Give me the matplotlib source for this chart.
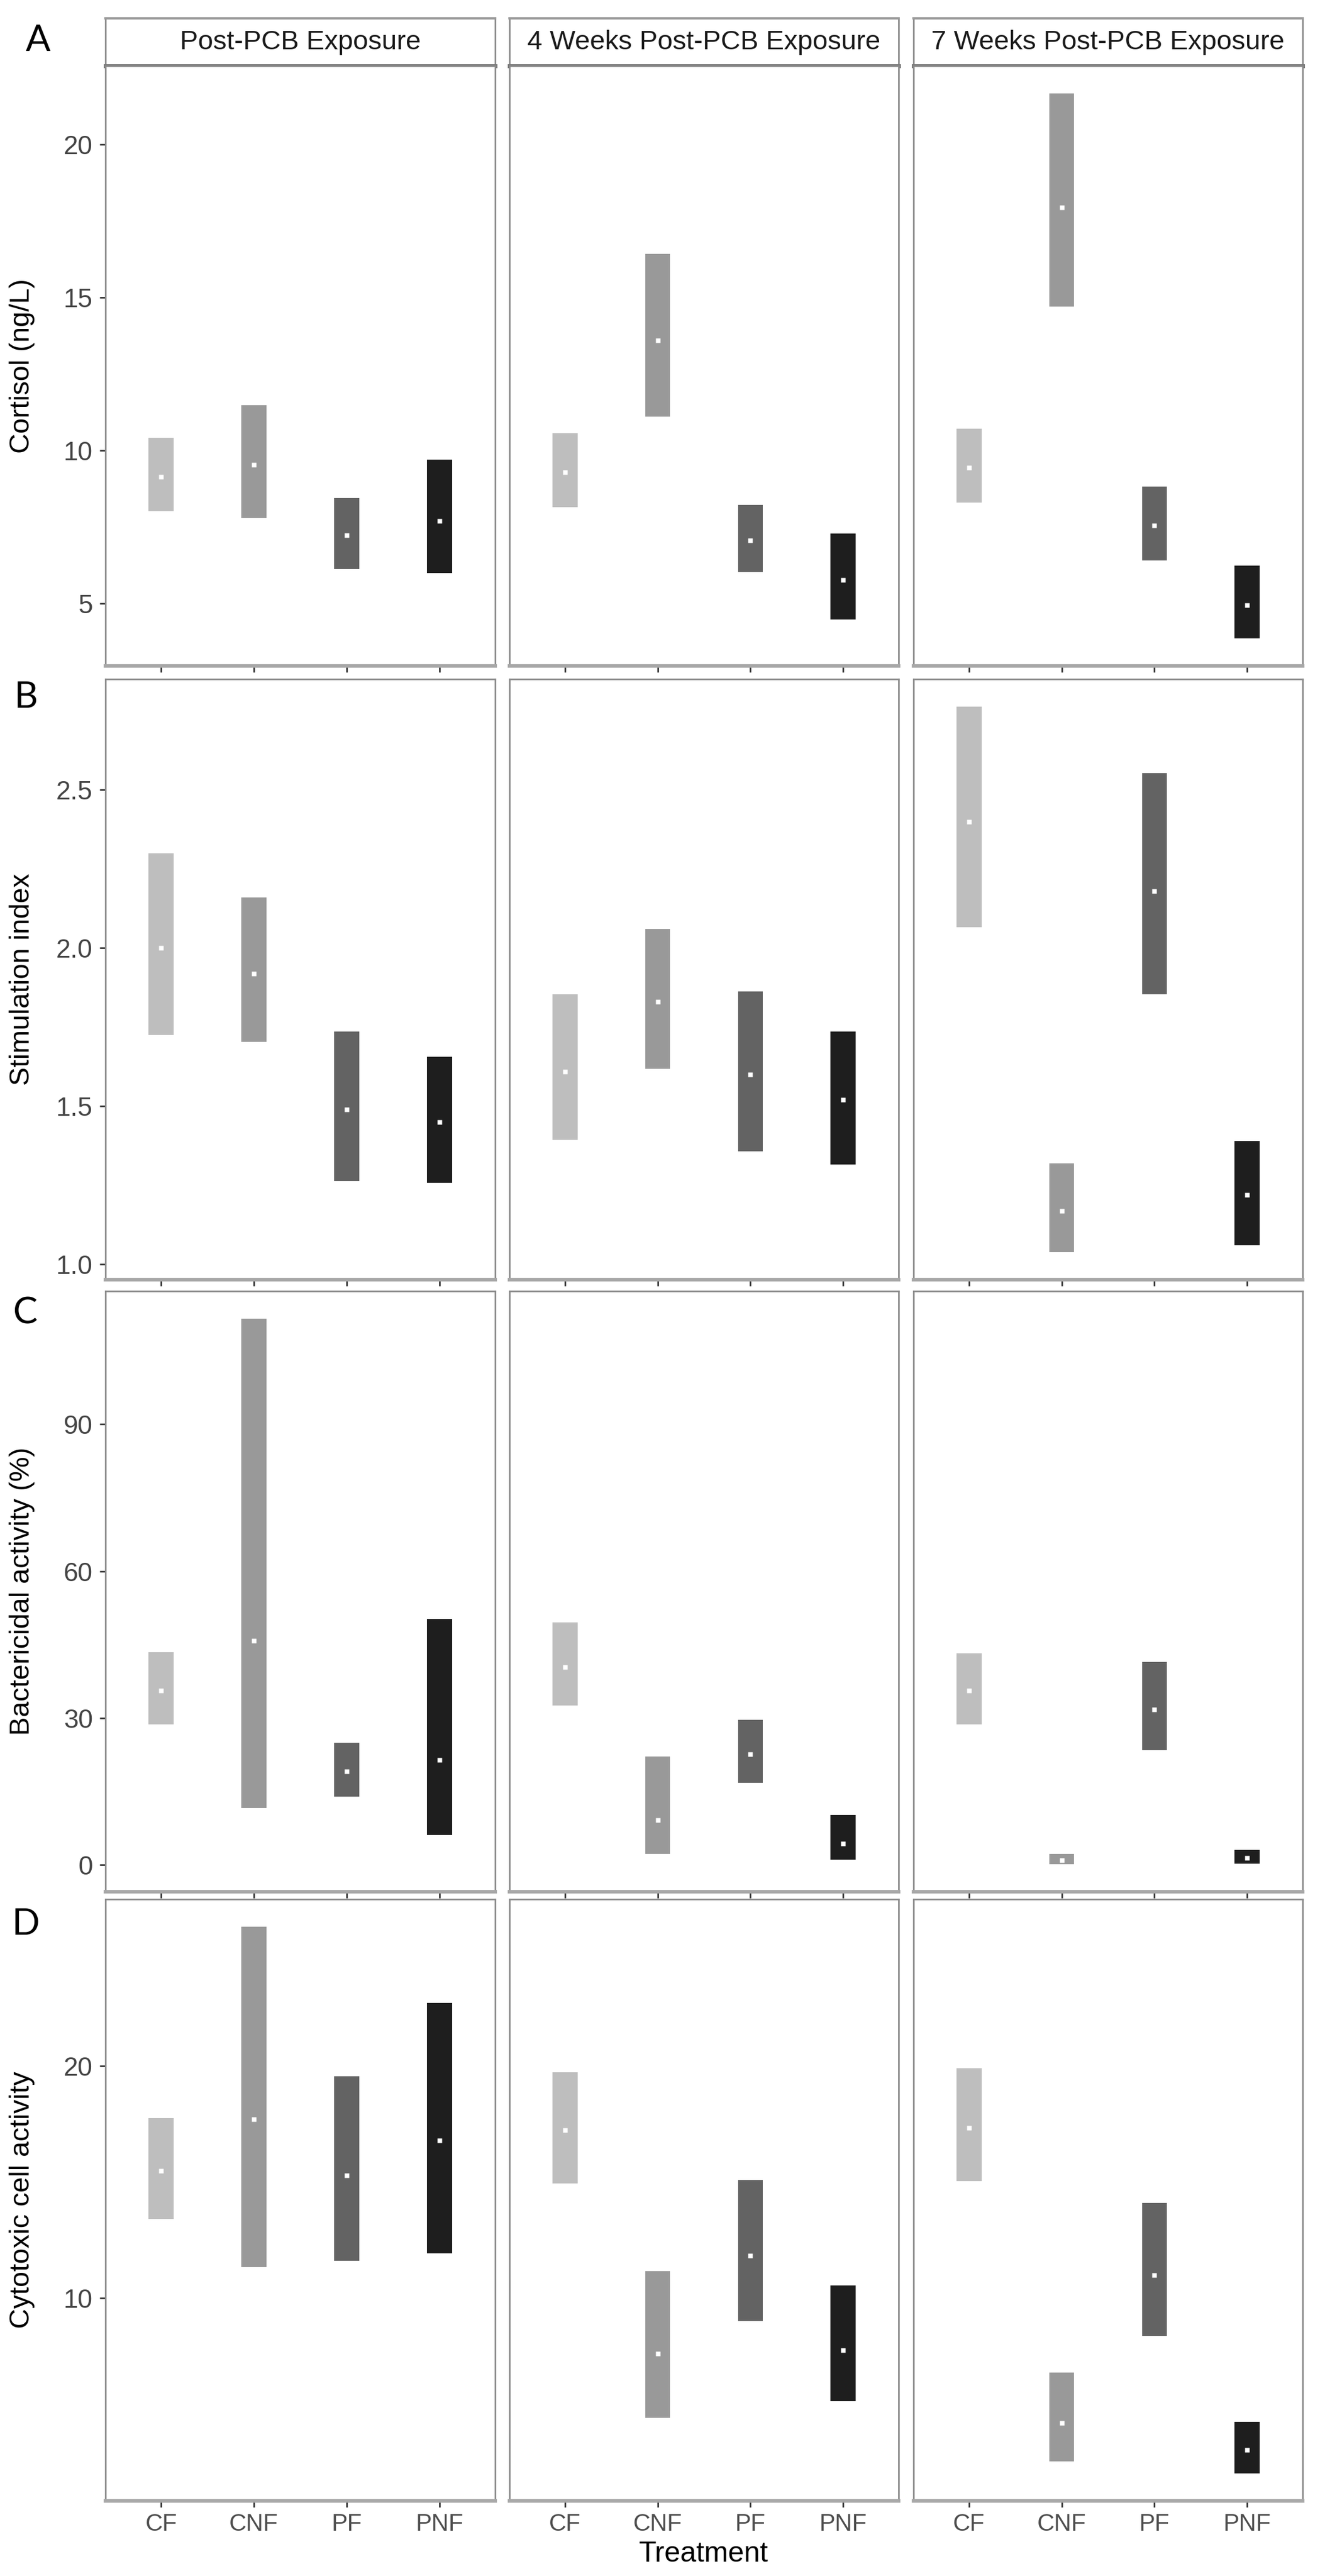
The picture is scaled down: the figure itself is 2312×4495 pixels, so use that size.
import numpy as np
import matplotlib
matplotlib.use("Agg")
import matplotlib.pyplot as plt

plt.rcParams['font.family'] = ['Liberation Sans', 'DejaVu Sans']

treatments = ["CF", "CNF", "PF", "PNF"]
periods = ["Post-PCB Exposure", "4 Weeks Post-PCB Exposure", "7 Weeks Post-PCB Exposure"]
bar_colors = ["#bebebe", "#999999", "#636363", "#1e1e1e"]

# each list: one row per period, values for CF, CNF, PF, PNF
cort_mean = [[9.14, 9.53, 7.24, 7.71], [9.30, 13.60, 7.07, 5.77], [9.44, 17.93, 7.56, 4.96]]
cort_low = [[8.03, 7.80, 6.14, 6.00], [8.16, 11.10, 6.03, 4.49], [8.30, 14.70, 6.41, 3.86]]
cort_high = [[10.41, 11.49, 8.46, 9.71], [10.56, 16.43, 8.23, 7.29], [10.71, 21.67, 8.83, 6.24]]

stim_mean = [[2.00, 1.92, 1.49, 1.45], [1.61, 1.83, 1.60, 1.52], [2.40, 1.17, 2.18, 1.22]]
stim_low = [[1.725, 1.703, 1.264, 1.258], [1.393, 1.619, 1.358, 1.315], [2.066, 1.038, 1.853, 1.060]]
stim_high = [[2.30, 2.16, 1.736, 1.657], [1.853, 2.061, 1.863, 1.736], [2.764, 1.319, 2.553, 1.391]]

bact_mean = [[35.6, 45.8, 19.1, 21.5], [40.4, 9.2, 22.6, 4.4], [35.6, 1.0, 31.7, 1.4]]
bact_low = [[28.7, 11.6, 14.0, 6.1], [32.6, 2.3, 16.8, 1.1], [28.7, 0.1, 23.4, 0.3]]
bact_high = [[43.5, 111.6, 25.0, 50.2], [49.5, 22.2, 29.6, 10.2], [43.2, 2.3, 41.5, 3.1]]

cyto_mean = [[15.49, 17.70, 15.29, 16.79], [17.23, 7.61, 11.82, 7.76], [17.33, 4.63, 11.00, 3.45]]
cyto_low = [[13.41, 11.33, 11.60, 11.94], [14.94, 4.85, 9.01, 5.55], [15.04, 2.96, 8.37, 2.44]]
cyto_high = [[17.75, 26.01, 19.57, 22.72], [19.74, 11.16, 15.08, 10.54], [19.90, 6.79, 14.11, 4.66]]

row_letters = ["A", "B", "C", "D"]
row_labels = ["Cortisol (ng/L)", "Stimulation index", "Bactericidal activity (%)", "Cytotoxic cell activity"]
row_yticks = [[5, 10, 15, 20], [1.0, 1.5, 2.0, 2.5], [0, 30, 60, 90], [10, 20]]
row_ytick_labels = [["5", "10", "15", "20"], ["1.0", "1.5", "2.0", "2.5"], ["0", "30", "60", "90"], ["10", "20"]]

rows = [
    (cort_mean, cort_low, cort_high),
    (stim_mean, stim_low, stim_high),
    (bact_mean, bact_low, bact_high),
    (cyto_mean, cyto_low, cyto_high),
]

W, H = 2312, 4495
fig = plt.figure(figsize=(W / 100, H / 100), dpi=100)


def frac(x0, y0, x1, y1):
    # pixel box (top-left origin) -> figure fraction rect
    return [x0 / W, 1 - y1 / H, (x1 - x0) / W, (y1 - y0) / H]


col_x = [(184, 864), (889, 1568), (1594, 2273)]
row_y = [(115, 1162), (1185, 2233), (2253, 3301), (3314, 4364)]
letter_y = [71, 1217, 2292, 3358]
letter_x = [66, 45, 44, 44]
ylabel_x = 61

border = "#8a8a8a"

# strips on top of the first row
for j, (x0, x1) in enumerate(col_x):
    sax = fig.add_axes(frac(x0, 32, x1, 115))
    sax.set_xticks([])
    sax.set_yticks([])
    for side in ["left", "right"]:
        sax.spines[side].set_color(border)
        sax.spines[side].set_linewidth(2)
    sax.spines["top"].set_color("#9a9a9a")
    sax.spines["top"].set_linewidth(3)
    sax.spines["bottom"].set_color("#7a7a7a")
    sax.spines["bottom"].set_linewidth(5)
    sax.text(0.5, 0.5, periods[j], ha="center", va="center", fontsize=34,
             color="#1a1a1a", transform=sax.transAxes)

x = np.arange(1, len(treatments) + 1)

for i, (means, lows, highs) in enumerate(rows):
    lo = np.min(lows)
    hi = np.max(highs)
    pad = 0.05 * (hi - lo)
    y0, y1 = row_y[i]
    for j, (x0, x1) in enumerate(col_x):
        ax = fig.add_axes(frac(x0, y0, x1, y1))
        low = np.array(lows[j])
        high = np.array(highs[j])
        ax.bar(x, high - low, bottom=low, width=0.27, color=bar_colors, linewidth=0)
        ax.plot(x, means[j], "s", color="white", ms=5.5, mec="none")
        ax.set_xlim(0.4, 4.6)
        ax.set_ylim(lo - pad, hi + pad)
        ax.set_xticks(x)
        ax.set_xticklabels(treatments)
        ax.tick_params(axis="x", length=8, width=2, color="#333333", labelsize=30,
                       labelcolor="#4d4d4d", pad=7, labelbottom=(i == len(rows) - 1))
        if j == 0:
            ax.set_yticks(row_yticks[i])
            ax.set_yticklabels(row_ytick_labels[i])
            ax.tick_params(axis="y", length=7, width=2, color="#333333", labelsize=33,
                           labelcolor="#444444", pad=9)
            ax.set_ylabel(row_labels[i], fontsize=35, color="black")
            ax.yaxis.set_label_coords((ylabel_x - x0) / (x1 - x0), 0.5)
        else:
            ax.set_yticks([])
        for side in ["left", "right", "top"]:
            ax.spines[side].set_color(border)
            ax.spines[side].set_linewidth(2)
        ax.spines["bottom"].set_color("#a8a8a8")
        ax.spines["bottom"].set_linewidth(4.5)
    fig.text(letter_x[i] / W, 1 - letter_y[i] / H, row_letters[i], fontsize=46,
             family=["Lato", "DejaVu Sans"], ha="center", va="center", color="black")

fig.text(1228 / W, 1 - 4457 / H, "Treatment", fontsize=36, ha="center", va="center", color="black")

fig.savefig("out.png", dpi=100)
